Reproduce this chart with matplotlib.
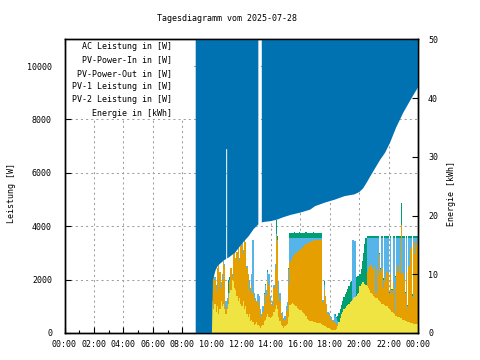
import numpy as np
import matplotlib
matplotlib.use("Agg")
import matplotlib.pyplot as plt
from matplotlib.patches import Rectangle

plt.rcParams['font.family'] = ['DejaVu Sans Mono']
plt.rcParams['lines.scale_dashes'] = False

# ---------------- data ----------------
title = "Tagesdiagramm vom 2025-07-28"
ylabel_left = "Leistung [W]"
ylabel_right = "Energie [kWh]"
legend_labels = ["AC Leistung in [W]", "PV-Power-In in [W]", "PV-Power-Out in [W]",
                 "PV-1 Leistung in [W]", "PV-2 Leistung in [W]", "Energie in [kWh]"]
xtick_labels = ["00:00", "02:00", "04:00", "06:00", "08:00", "10:00", "12:00",
                "14:00", "16:00", "18:00", "20:00", "22:00", "00:00"]

# power values, 5-minute samples starting 10:00 (one row per hour)
power_start_hour = 10.0
pv_in = [
    1850, 1750, 1900, 1700, 2200, 2400, 2000, 1850, 2100, 2500, 2550, 1100,
    1250, 2000, 2100, 2200, 2100, 2800, 3200, 2600, 2700, 3000, 2750, 3300,
    3300, 3000, 3250, 3200, 2400, 2000, 1900, 1650, 2100, 3400, 1450, 1250,
    1000, 1400, 1300, 850, 650, 950, 1500, 1850, 1550, 2350, 2150, 1350,
    1050, 1150, 1750, 2500, 4250, 3650, 1900, 1450, 700, 750, 500, 600,
    950, 1100, 2450, 3740, 3760, 3750, 3760, 3770, 3760, 3750, 3760, 3770,
    3760, 3760, 3750, 3760, 3770, 3760, 3760, 3750, 3760, 3760, 3770, 3760,
    3760, 3760, 3750, 3760, 3760, 3740, 1200, 1950, 1350, 950, 750, 700,
    600, 550, 480, 720, 700, 600, 650, 750, 900, 1050, 1200, 1350,
    1450, 1550, 1650, 1750, 1900, 1950, 2000, 2000, 2050, 2100, 2150, 2150,
    2200, 2400, 2700, 3000, 3350, 3550, 3640, 3640, 3640, 3650, 3640, 3640,
    3640, 3640, 3650, 3640, 3000, 2450, 3640, 2050, 3640, 3650, 3640, 3640,
    1550, 3640, 1650, 3640, 3640, 2150, 3650, 3640, 3640, 3640, 4880, 3640,
    3640, 1550, 3640, 1050, 3640, 3650, 3640, 1450, 3640, 3640, 3640, 3650,
]
pv_out = [
    2000, 1700, 2100, 1800, 2300, 2500, 2100, 1900, 2200, 2700, 2600, 1200,
    1300, 1500, 2000, 2300, 2200, 2900, 3300, 2700, 2800, 3100, 2800, 3450,
    3450, 3100, 3350, 3300, 2500, 2100, 2000, 1700, 2200, 3500, 1500, 1300,
    1200, 1450, 1400, 900, 700, 1000, 1450, 1800, 1600, 2300, 2200, 1400,
    1100, 1200, 1800, 2600, 3700, 3500, 1950, 1500, 750, 800, 550, 650,
    1000, 1150, 2400, 3560, 3570, 3570, 3560, 3570, 3570, 3560, 3570, 3570,
    3570, 3570, 3570, 3560, 3570, 3570, 3570, 3570, 3560, 3570, 3570, 3570,
    3570, 3570, 3560, 3570, 3570, 3560, 1250, 1800, 1400, 1000, 800, 750,
    650, 600, 500, 700, 650, 550, 450, 400, 450, 500, 550, 600,
    650, 700, 750, 800, 850, 900, 3500, 3500, 3450, 1000, 1050, 1100,
    1200, 1250, 1300, 1350, 1400, 1500, 3570, 3570, 3560, 3570, 3570, 3570,
    3570, 3570, 3560, 3570, 2950, 2400, 3570, 2000, 3570, 3570, 3560, 3570,
    1500, 3570, 1600, 3570, 3560, 2100, 3570, 3570, 3570, 3570, 3570, 3570,
    3570, 1500, 3570, 1000, 3570, 3570, 3570, 1400, 3570, 3560, 3570, 3570,
]
ac_power = pv_out  # AC output coincides with PV-Power-Out (hidden underneath)
pv1 = [
    1500, 2200, 2000, 1600, 2450, 2600, 2300, 1700, 2000, 2650, 2500, 900,
    1000, 1300, 1900, 2450, 2100, 3100, 3350, 2800, 3050, 3300, 2700, 3350,
    3300, 2950, 3500, 3400, 2450, 2200, 1600, 1500, 1800, 1500, 1300, 1200,
    1150, 1200, 1000, 700, 600, 800, 1100, 1450, 1400, 2000, 1800, 1200,
    1050, 1000, 1700, 2400, 3650, 3400, 1450, 1200, 700, 650, 450, 500,
    800, 900, 1800, 2650, 2750, 2850, 2900, 2950, 3000, 3050, 3080, 3100,
    3150, 3200, 3250, 3300, 3320, 3350, 3380, 3400, 3420, 3450, 3460, 3470,
    3480, 3480, 3490, 3490, 3480, 3470, 1150, 1600, 1350, 1100, 700, 650,
    550, 500, 450, 420, 380, 350, 300, 280, 300, 350, 400, 450,
    500, 550, 600, 650, 700, 750, 800, 850, 900, 950, 1000, 1050,
    700, 800, 900, 1100, 1300, 1600, 2300, 2500, 2450, 2550, 2350, 2450,
    2500, 1500, 2400, 2200, 2950, 2300, 2450, 1700, 2100, 1900, 2300, 2200,
    1450, 2200, 1500, 1900, 800, 1700, 2500, 2300, 2550, 2200, 4050, 2250,
    2000, 1450, 2300, 950, 2500, 3200, 3150, 1320, 3400, 2950, 3300, 3450,
]
pv2 = [
    1200, 900, 1100, 800, 1000, 700, 900, 1200, 1000, 1100, 900, 700,
    900, 1100, 1500, 1600, 2000, 1950, 1700, 1600, 1400, 1200, 1300, 1100,
    1000, 1200, 900, 1000, 700, 600, 700, 450, 500, 400, 300, 350,
    400, 300, 250, 200, 250, 300, 450, 500, 600, 700, 600, 550,
    600, 650, 800, 900, 1050, 900, 600, 450, 300, 250, 200, 250,
    300, 350, 600, 1050, 1100, 1120, 1100, 1050, 1000, 950, 900, 880,
    850, 800, 750, 700, 650, 520, 480, 460, 450, 440, 420, 410,
    400, 390, 380, 370, 360, 350, 300, 280, 260, 240, 200, 180,
    150, 120, 100, 100, 120, 150, 250, 400, 550, 700, 800, 900,
    950, 1000, 1050, 1100, 1150, 1200, 1250, 1300, 1350, 1400, 1450, 1500,
    1750, 1850, 1900, 1900, 1850, 1800, 1750, 1700, 1600, 1500, 1450, 1400,
    1350, 1300, 1300, 1250, 1200, 1150, 1100, 1100, 1050, 1000, 1000, 950,
    900, 850, 800, 750, 700, 650, 650, 600, 600, 550, 550, 500,
    480, 460, 440, 420, 400, 380, 370, 360, 350, 340, 330, 330,
]

# cumulative energy (kWh); None = no data
energy_times = ["08:54", "10:00", "10:04", "10:15", "10:25", "10:50", "10:58", "10:58",
                "11:02", "11:02", "11:10", "11:35", "12:00", "12:30", "12:50", "13:09",
                "13:10", "13:22", "13:23", "13:30", "14:00", "14:25", "14:50", "15:20",
                "16:00", "16:40", "17:00", "17:40", "18:20", "19:00", "19:40", "20:00",
                "20:15", "20:30", "20:45", "21:05", "21:25", "21:45", "22:05", "22:30",
                "23:00", "23:30", "24:00"]
energy_kwh = [0.0, 0.0, 9.0, 10.7, 11.5, 12.4, 12.6, 31.3,
              31.3, 12.7, 12.9, 13.7, 15.1, 16.5, 17.7, 18.5,
              None, None, 18.8, 18.9, 19.05, 19.3, 19.7, 20.1,
              20.5, 21.0, 21.6, 22.2, 22.7, 23.3, 23.6, 24.0,
              24.6, 25.6, 26.7, 28.1, 29.5, 30.7, 32.4, 35.0,
              37.6, 39.8, 41.9]

colors = {"ac": "#9400D3", "in": "#009E73", "out": "#56B4E9",
          "pv1": "#E69F00", "pv2": "#F0E442", "energy": "#0072B2"}

# ---------------- figure ----------------
W, H = 480, 360
fig = plt.figure(figsize=(4.8, 3.6), dpi=100)
left, right, bottom, top = 64.5, 418.3, 333.0, 39.3
ax = fig.add_axes([left / W, 1 - bottom / H, (right - left) / W, (bottom - top) / H])
ax2 = ax.twinx()

n = len(pv_in)
t = power_start_hour + np.arange(n + 1) / 12.0


def ext(v):
    return np.append(np.asarray(v, dtype=float), v[-1])


series = [("ac", ac_power), ("in", pv_in), ("out", pv_out), ("pv1", pv1), ("pv2", pv2)]
for z, (key, vals) in enumerate(series):
    ax.fill_between(t, 0, ext(vals), step="post", color=colors[key], lw=0, zorder=2 + z * 0.1)

et = np.array([int(s[:2]) + int(s[3:]) / 60.0 for s in energy_times])
ev = np.array([np.nan if v is None else v for v in energy_kwh], dtype=float)
ax2.fill_between(et, ev, 50, color=colors["energy"], lw=0, zorder=1)

ax.set_xlim(0, 24)
ax.set_ylim(0, 11000)
ax2.set_ylim(0, 50)

ax.set_xticks(np.arange(0, 25, 2))
ax.set_xticklabels(xtick_labels)
ax.set_xticks(np.arange(1, 24, 2), minor=True)
ax.set_yticks(np.arange(0, 10001, 2000))
ax.set_yticklabels([str(v) for v in range(0, 10001, 2000)])
ax2.set_yticks(np.arange(0, 51, 10))
ax2.set_yticklabels([str(v) for v in range(0, 51, 10)])

ax.set_axisbelow(True)
ax.grid(True, which="major", color="#a0a0a0", linestyle=(0, (1.5, 2.2)), linewidth=0.75)

ax.tick_params(axis="x", which="major", direction="in", length=4, width=0.8,
               top=True, labelsize=6, pad=5, colors="black")
ax.tick_params(axis="x", which="minor", direction="in", length=2, width=0.8, top=True)
ax.tick_params(axis="y", which="major", direction="in", length=4, width=0.8,
               right=False, labelsize=6, pad=9)
ax2.tick_params(axis="y", which="major", direction="in", length=4, width=0.8,
                labelsize=6, pad=7)

for a in (ax, ax2):
    for s in a.spines.values():
        s.set_linewidth(1.0)
        s.set_color("black")

# key area (opaque)
ax.add_patch(Rectangle((65 / W, 1 - 118 / H), (192 - 65) / W, (118 - 39.3) / H,
                       transform=fig.transFigure, facecolor="white", edgecolor="none", zorder=1))
key_y = [46.7, 60.0, 73.3, 86.7, 100.0, 113.3]
for lab, y in zip(legend_labels, key_y):
    fig.text(172 / W, 1 - y / H, lab, ha="right", va="center", fontsize=6)

fig.text(226.7 / W, 1 - 18.3 / H, title, ha="center", va="center", fontsize=6)
fig.text(12 / W, 1 - 193 / H, ylabel_left, rotation=90, ha="center", va="center", fontsize=6)
fig.text(452 / W, 1 - 193 / H, ylabel_right, rotation=90, ha="center", va="center", fontsize=6)

fig.savefig("out.png", dpi=100)
